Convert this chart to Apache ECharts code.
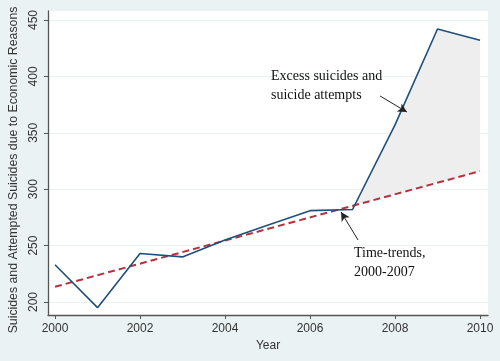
<!DOCTYPE html>
<html><head><meta charset="utf-8">
<script src="https://cdn.jsdelivr.net/npm/echarts@6/dist/echarts.min.js"></script>
<style>html,body{margin:0;padding:0;background:#eaf2f3}#c{width:500px;height:361px}</style>
</head><body><div id="c"></div>
<script>
const years = [2000, 2001, 2002, 2003, 2004, 2005, 2006, 2007, 2008, 2009, 2010];
const observed = [233, 195, 243, 240, 255, 268, 281, 282, 357, 442, 432];
const trendYears = [2000, 2010];
const trendValues = [213.5, 316];
const xTicks = [2000, 2002, 2004, 2006, 2008, 2010];
const yTicks = [200, 250, 300, 350, 400, 450];
const yTitle = 'Suicides and Attempted Suicides due to Economic Reasons';
const xTitle = 'Year';
const note1 = 'Excess suicides and\nsuicide attempts';
const note2 = 'Time-trends,\n2000-2007';
const arrow1 = [[2007.65, 382.6], [2008.28, 368.4]];
const arrow2 = [[2007.13, 255], [2006.73, 279.8]];

function trendAt(x) {
  const t = (x - trendYears[0]) / (trendYears[1] - trendYears[0]);
  return trendValues[0] + t * (trendValues[1] - trendValues[0]);
}
const i7 = years.indexOf(2007);
const d0 = observed[i7] - trendAt(years[i7]);
const d1 = observed[i7 + 1] - trendAt(years[i7 + 1]);
const cx = years[i7] + (years[i7 + 1] - years[i7]) * (d0 / (d0 - d1));
const poly = [[cx, trendAt(cx)]];
for (let i = i7 + 1; i < years.length; i++) poly.push([years[i], observed[i]]);
poly.push([years[years.length - 1], trendAt(years[years.length - 1])]);

const chart = echarts.init(document.getElementById('c'), null, {renderer: 'canvas'});
const axisText = {color: '#333', fontFamily: 'Liberation Sans, Arial', fontSize: 12};
chart.setOption({
  backgroundColor: '#eaf2f3',
  animation: false,
  grid: {left: 48, right: 12, top: 11, bottom: 46, show: true, backgroundColor: '#ffffff', borderWidth: 0,
         containLabel: false, outerBoundsMode: 'none'},
  xAxis: {
    type: 'value', min: 1999.835, max: 2010.188,
    name: xTitle, nameLocation: 'middle', nameGap: 25,
    nameTextStyle: Object.assign({}, axisText),
    axisLine: {show: true, lineStyle: {color: '#555', width: 1.3}},
    axisTick: {show: true, length: 4, customValues: xTicks, lineStyle: {color: '#555'}},
    axisLabel: Object.assign({customValues: xTicks, margin: 8, formatter: v => String(v)}, axisText),
    splitLine: {show: false}
  },
  yAxis: {
    type: 'value', min: 188.48, max: 457.98,
    axisLine: {show: true, lineStyle: {color: '#555', width: 1.3}},
    axisTick: {show: true, length: 4, customValues: yTicks, lineStyle: {color: '#555'}},
    axisLabel: Object.assign({customValues: yTicks, rotate: 90, margin: 8, formatter: v => String(v)}, axisText),
    splitLine: {show: true, lineStyle: {color: '#eaf2f3', width: 1}}
  },
  series: [
    {
      type: 'custom', z: 1, silent: true,
      data: [0],
      renderItem: function (params, api) {
        return {type: 'polygon', shape: {points: poly.map(p => api.coord(p))},
          style: {fill: '#eeeeee', stroke: null}};
      }
    },
    {
      type: 'line', z: 3, symbol: 'none', silent: true,
      data: trendYears.map((y, i) => [y, trendValues[i]]),
      lineStyle: {color: '#b5323d', width: 2, type: [7, 4]}
    },
    {
      type: 'line', z: 4, symbol: 'none', silent: true,
      data: years.map((y, i) => [y, observed[i]]),
      lineStyle: {color: '#1f4f7d', width: 1.6},
      markLine: {
        silent: true, symbol: ['none', 'arrow'], symbolSize: [7, 9],
        lineStyle: {color: '#222', width: 1, type: 'solid'},
        label: {show: false},
        data: [
          [{coord: arrow1[0]}, {coord: arrow1[1]}],
          [{coord: arrow2[0]}, {coord: arrow2[1]}]
        ]
      }
    }
  ],
  graphic: [
    {type: 'text', x: 14, y: 170, rotation: Math.PI / 2, z: 10,
     style: {text: yTitle, fill: '#333', font: '12.3px "Liberation Sans", Arial, sans-serif', align: 'center', verticalAlign: 'middle'}},
    {type: 'text', left: 271, top: 67, z: 10,
     style: {text: note1, fill: '#111', font: '14px "Liberation Serif", "Times New Roman", serif', lineHeight: 19}},
    {type: 'text', left: 354, top: 244, z: 10,
     style: {text: note2, fill: '#111', font: '14px "Liberation Serif", "Times New Roman", serif', lineHeight: 19}}
  ]
});
</script>
</body></html>
